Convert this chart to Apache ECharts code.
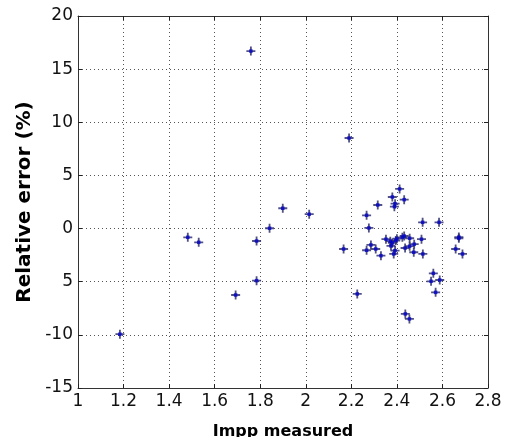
<!DOCTYPE html>
<html>
<head>
<meta charset="utf-8">
<script src="https://cdn.jsdelivr.net/npm/echarts@6/dist/echarts.min.js"></script>
<style>
html,body{margin:0;padding:0;background:#fff;}
#chart{width:508px;height:446px;}
</style>
</head>
<body>
<div id="chart"></div>
<script>
const xValues = [1.184,1.482,1.530,1.692,1.759,1.784,1.784,1.841,1.899,2.015,
  2.166,2.190,2.226,2.267,2.267,2.277,2.286,2.307,2.316,2.330,
  2.352,2.371,2.374,2.380,2.389,2.392,2.395,2.392,2.386,2.412,
  2.432,2.424,2.432,2.436,2.437,2.455,2.456,2.456,2.476,2.474,
  2.508,2.513,2.514,2.550,2.560,2.570,2.585,2.588,2.658,2.672,
  2.672,2.688,2.380,2.400];
const yValues = [-9.94,-0.82,-1.29,-6.25,16.7,-1.17,-4.9,0.03,1.91,1.35,
  -1.92,8.52,-6.15,1.25,-2.04,0.06,-1.54,-1.92,2.22,-2.55,
  -1.0,-1.19,-1.63,2.97,2.06,2.34,-1.12,-2.07,-2.39,3.73,
  2.72,-0.82,-0.7,-1.83,-8.03,-8.5,-0.91,-1.66,-1.47,-2.23,
  -1.0,0.59,-2.39,-4.96,-4.21,-6.0,0.59,-4.84,-1.92,-0.91,
  -0.8,-2.39,-1.35,-0.95];
const yTickValues = [-15,-10,-5,0,5,10,15,20];
const yTickLabels = ['-15','-10','5','0','5','10','15','20'];
const xTickValues = [1,1.2,1.4,1.6,1.8,2,2.2,2.4,2.6,2.8];
const xTickLabels = ['1','1.2','1.4','1.6','1.8','2','2.2','2.4','2.6','2.8'];
const xName = 'Impp measured';
const yName = 'Relative error (%)';

const points = xValues.map((x,i)=>[x,yValues[i]]);
function xLab(v){const i=xTickValues.findIndex(t=>Math.abs(t-v)<1e-6);return i<0?'':xTickLabels[i];}
function yLab(v){const i=yTickValues.findIndex(t=>Math.abs(t-v)<1e-6);return i<0?'':yTickLabels[i];}

const frame = {lineStyle:{color:'#333',width:1}};
const tick = {show:true,inside:true,length:4,lineStyle:{color:'#222',width:1}};
const font = 'DejaVu Sans';

const chart = echarts.init(document.getElementById('chart'),null,{renderer:'canvas'});
chart.setOption({
  animation:false,
  backgroundColor:'#fff',
  grid:{left:78,right:20,top:16,bottom:58,containLabel:false},
  xAxis:[{
    type:'value',min:1,max:2.8,interval:0.2,position:'bottom',
    name:xName,nameLocation:'middle',nameGap:36,
    nameTextStyle:{fontFamily:font,fontWeight:'bold',fontSize:16,color:'#000'},
    axisLine:{show:true,onZero:false,...frame},
    axisTick:tick,
    axisLabel:{fontFamily:font,fontSize:17,color:'#111',margin:5,formatter:xLab},
    splitLine:{show:true,lineStyle:{color:'#555',width:1,type:[1,3]}}
  },{
    type:'value',min:1,max:2.8,interval:0.2,position:'top',
    axisLine:{show:true,onZero:false,...frame},
    axisTick:tick,axisLabel:{show:false},splitLine:{show:false}
  }],
  yAxis:[{
    type:'value',min:-15,max:20,interval:5,position:'left',
    name:yName,nameLocation:'middle',nameGap:42,nameRotate:90,
    nameTextStyle:{fontFamily:font,fontWeight:'bold',fontSize:20,color:'#000'},
    axisLine:{show:true,onZero:false,...frame},
    axisTick:tick,
    axisLabel:{fontFamily:font,fontSize:17,color:'#111',margin:5,formatter:yLab},
    splitLine:{show:true,lineStyle:{color:'#555',width:1,type:[1,3]}}
  },{
    type:'value',min:-15,max:20,interval:5,position:'right',
    axisLine:{show:true,onZero:false,...frame},
    axisTick:tick,axisLabel:{show:false},splitLine:{show:false}
  }],
  series:[{
    type:'scatter',data:points,
    symbol:'path://M3.6,0H5.4V3.6H9V5.4H5.4V9H3.6V5.4H0V3.6H3.6Z',symbolSize:9,
    itemStyle:{color:'#33336e',opacity:0.85}
  },{
    type:'scatter',data:points,symbol:'rect',symbolSize:3.5,
    itemStyle:{color:'#0000cc'}
  }],
  graphic:[{type:'rect',left:0,top:437,shape:{width:508,height:9},style:{fill:'#fff'},z:100}]
});
</script>
</body>
</html>
